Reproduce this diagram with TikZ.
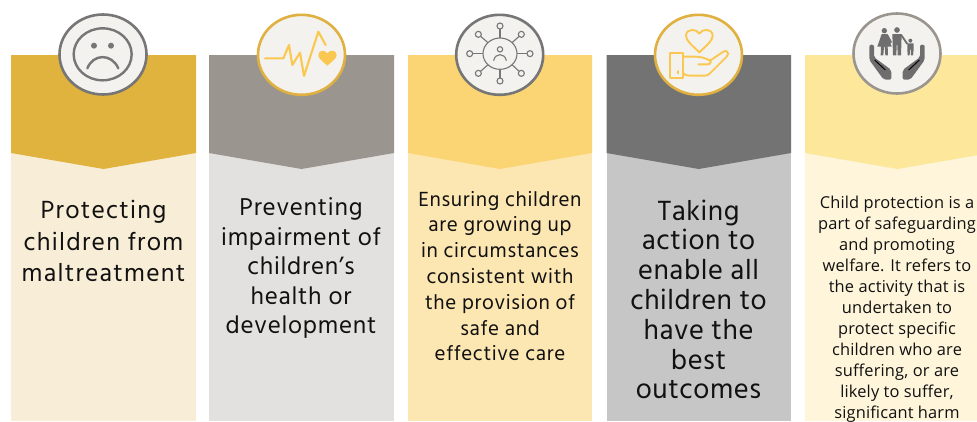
\documentclass[tikz,border=0pt]{standalone}
\usepackage{fontspec}
\usetikzlibrary{shapes.geometric}
\setmainfont{Hind Madurai}
\newfontfamily\opensans{Open Sans}
\definecolor{goldA}{HTML}{E0B33F}\definecolor{goldB}{HTML}{F8EDD6}
\definecolor{taupeA}{HTML}{9A958E}\definecolor{taupeB}{HTML}{E2E1DF}
\definecolor{yelA}{HTML}{FBD573}\definecolor{yelB}{HTML}{FCE6B1}
\definecolor{greyA}{HTML}{737373}\definecolor{greyB}{HTML}{C6C6C6}
\definecolor{paleA}{HTML}{FDE79B}\definecolor{paleB}{HTML}{FEF5DA}
\definecolor{disc}{HTML}{F4F2EE}\definecolor{ring}{HTML}{767676}
\definecolor{ringgold}{HTML}{E0B040}\definecolor{ringtaupe}{HTML}{9A958E}
\definecolor{iconyel}{HTML}{FAC850}\definecolor{icongrey}{HTML}{6E6E6E}
\definecolor{ink}{HTML}{111111}
\tikzset{
 disc/.style={ellipse,minimum width=87pt,minimum height=80pt,inner sep=0pt,fill=disc,line width=2.6pt},
 body/.style={inner sep=0pt,align=center,text=ink},
 zoomed/.style={x=0.33333pt,y=-0.33333pt},
 sat/.style={draw=ring,line width=1.1pt,fill=disc},
}
\newcommand{\column}[5]{% left, right, colA, colB, name
 \fill[#4] (#1,140) rectangle (#2,421);
 \fill[#3] (#1,55) -- (#2,55) -- (#2,153) -- ({(#1+#2)/2},169) -- (#1,153) -- cycle;
}
\begin{document}
\begin{tikzpicture}[x=1pt,y=-1pt]
\useasboundingbox (0,0) rectangle (977,421);
\fill[white] (0,0) rectangle (977,421);
\column{11}{196}{goldA}{goldB}{a}
\column{209}{394}{taupeA}{taupeB}{b}
\column{408}{592}{yelA}{yelB}{c}
\column{606.5}{791}{greyA}{greyB}{d}
\column{805}{990}{paleA}{paleB}{e}

\node[disc,draw=ring] (c1) at (103,54.5) {};
\node[disc,draw=ringgold] (c2) at (301.5,54.8) {};
\node[disc,draw=ring] (c3) at (499.7,54.8) {};
\node[disc,draw=ringgold] (c4) at (698.5,54.8) {};
\node[disc,draw=ringtaupe] (c5) at (897,53.5) {};

% sad face
\begin{scope}[zoomed,draw=ring,line width=2.4pt,line cap=round]
\draw (308,163) ellipse [x radius=87,y radius=78];
\fill[ring] (282,137) circle [radius=9];
\fill[ring] (333,137) circle [radius=9];
\draw (262,205) .. controls (280,160) and (335,160) .. (355,205);
\end{scope}

% pulse and heart
\begin{scope}[zoomed,line width=2.1pt,draw=iconyel,line join=round,line cap=round]
\draw (795,175) -- (850,175) -- (867,135) -- (877,195) -- (900,158) -- (912,228) -- (955,95) -- (977,135);
\fill[iconyel] (982,197) .. controls (965,182) and (955,175) .. (955,165) .. controls (955,150) and (975,148) .. (982,160) .. controls (989,148) and (1010,150) .. (1010,165) .. controls (1010,175) and (999,182) .. (982,197) -- cycle;
\end{scope}

% network
\begin{scope}[shift={(455,10)},zoomed,line width=1.1pt,draw=ring]
\draw (135,131) ellipse [x radius=51,y radius=47];
\foreach \p/\q/\r/\s in {135/48/135/84,135/213/135/178,44/131/84/131,225/131/186/131,70/73/99/98,199/73/171/98,70/190/99/164,199/190/171/164}{
 \draw (\p,\q) -- (\r,\s);
 \draw[sat] (\p,\q) circle [radius=9];
}
\draw (135,118) circle [radius=8];
\draw (116,152) .. controls (120,128) and (150,128) .. (154,152);
\end{scope}

% heart in hand
\begin{scope}[shift={(655,10)},zoomed,line width=1.9pt,draw=iconyel,line join=round,line cap=round]
\draw (133,127) .. controls (110,105) and (93,92) .. (93,77) .. controls (93,55) and (125,55) .. (133,71) .. controls (141,55) and (173,55) .. (173,77) .. controls (173,92) and (156,105) .. (133,127) -- cycle;
\draw (45,128) rectangle (85,203);
\draw (70,183) -- (70,190);
\draw (85,140) -- (120,140) .. controls (135,140) and (150,143) .. (165,152) -- (205,125) .. controls (215,118) and (225,130) .. (215,140) -- (165,190) .. controls (160,195) and (155,197) .. (148,197) -- (105,197) .. controls (95,197) and (90,195) .. (85,190);
\draw (130,163) -- (158,163) .. controls (170,163) and (170,150) .. (160,149);
\end{scope}

% family in hands
\begin{scope}[shift={(852,10)},zoomed,fill=icongrey]
\fill (97,62) circle [radius=8];
\fill (89,72) -- (106,72) -- (119,110) -- (107,110) -- (108,136) -- (100,136) -- (98,110) -- (96,110) -- (94,136) -- (86,136) -- (87,110) -- (76,110) -- cycle;
\fill (135,60) circle [radius=8.5];
\fill (121,72) -- (149,72) -- (148,105) -- (147,136) -- (137,136) -- (136,105) -- (134,105) -- (133,136) -- (123,136) -- (122,105) -- cycle;
\draw[icongrey,line width=1.8pt] (105,74) -- (118,98);
\draw[icongrey,line width=1.8pt] (147,74) -- (166,102);
\fill (175,92) circle [radius=6];
\fill (166,100) -- (185,100) -- (185,118) -- (183,136) -- (177,136) -- (176,118) -- (174,118) -- (173,136) -- (167,136) -- (166,118) -- cycle;
\foreach \m in {1,-1}{
 \begin{scope}[xshift=135pt*(1-\m)*0.33333,xscale=\m]
  \fill[rounded corners=2pt] (52,104) -- (66,104) -- (66,142) -- (72,146) -- (118,180) -- (118,209) -- (95,209) -- (52,150) -- cycle;
  \draw[disc,line width=1pt] (68,150) -- (100,180);
 \end{scope}
}
\end{scope}

\node[body,font=\fontsize{25.5}{31.5}\selectfont\addfontfeature{LetterSpace=5}] (t1) at (103.5,241) {Protecting\\children from\\maltreatment};
\node[body,font=\fontsize{25}{29.5}\selectfont\addfontfeature{LetterSpace=3}] (t2) at (301,268) {Preventing\\impairment of\\children’s\\health or\\development};
\node[body,font=\fontsize{21}{25.8}\selectfont\addfontfeature{LetterSpace=3}] (t3) at (500,276) {Ensuring children\\are growing up\\in circumstances\\consistent with\\the provision of\\safe and\\effective care};
\node[body,font=\fontsize{28.5}{29.8}\selectfont\addfontfeature{LetterSpace=2}] (t4) at (698.5,299.5) {Taking\\action to\\enable all\\children to\\have the\\best\\outcomes};
\node[body,font=\opensans\fontsize{16.4}{21}\selectfont\addfontfeature{LetterSpace=1}] (t5) at (897,309) {Child protection is a\\part of safeguarding\\and promoting\\welfare. It refers to\\the activity that is\\undertaken to\\protect specific\\children who are\\suffering, or are\\likely to suffer,\\significant harm};
\end{tikzpicture}
\end{document}
